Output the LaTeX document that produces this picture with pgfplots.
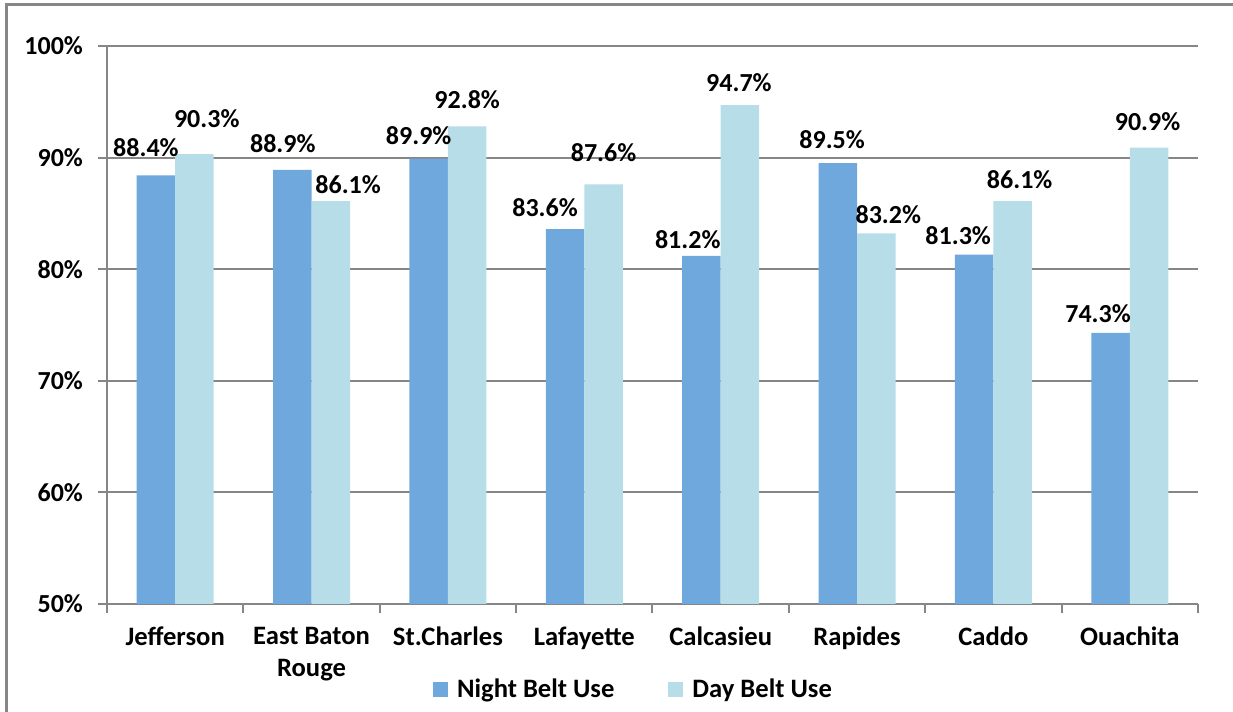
\documentclass[border=0pt]{standalone}
\usepackage{fontspec}
\setmainfont{Carlito}
\usepackage{pgfplots}
\usepackage{pgfplotstable}
\pgfplotsset{compat=1.18}
\definecolor{nightc}{RGB}{111,168,220}
\definecolor{dayc}{RGB}{183,221,232}
\definecolor{gridc}{RGB}{134,134,134}
\pgfplotstableread{
x night ndx ndy day ddx ddy
0 88.4 -5 13.85 90.3 6.15 17.65
1 88.9 -4.75 12.9 86.1 8.65 8
2 89.9 -5 11.5 92.8 0 13.25
3 83.6 -10 10.5 87.6 0 16
4 81.2 -6.85 8.25 94.7 -0.5 11.25
5 89.5 -2.85 11.65 83.2 6 9.35
6 81.3 -8 9.35 86.1 3.5 10.85
7 74.3 -6.25 9.35 90.9 -0.75 12.85
}\data
\begin{document}
\begin{tikzpicture}
\useasboundingbox (-53.5pt,-54pt) rectangle (563pt,302pt);
\begin{axis}[
  at={(0,0)}, anchor=south west,
  width=545.5pt, height=279pt, scale only axis,
  ybar=0pt, bar width=19.25pt,
  ymin=50, ymax=100, xmin=-0.5, xmax=7.5,
  ytick={50,60,...,100},
  yticklabels={50\%,60\%,70\%,80\%,90\%,100\%},
  ymajorgrids, grid style={gridc, line width=1pt},
  axis x line*=bottom, axis y line*=left,
  axis line style={gridc, line width=1pt},
  xtick={-0.5,0.5,...,7.5},
  x tick label as interval,
  xticklabels={Jefferson,East Baton\\Rouge,St.Charles,Lafayette,Calcasieu,Rapides,Caddo,Ouachita},
  tick align=outside, major tick length=4.5pt,
  tick style={gridc, line width=1pt},
  ticklabel style={font=\fontsize{13}{15.5}\selectfont\bfseries},
  yticklabel style={xshift=-4pt},
  xticklabel style={align=center, yshift=-3.5pt, font=\fontsize{13.3}{16.2}\selectfont\bfseries},
  /pgf/number format/assume math mode=true,
  nodes near coords={\pgfmathprintnumber[fixed,fixed zerofill,precision=1]{\pgfplotspointmeta}\%},
  every node near coord/.append style={font=\fontsize{13}{15.5}\selectfont\bfseries, text=black},
  legend columns=2,
  legend style={draw=none, at={(0.4835,-0.1541)}, anchor=center,
    font=\fontsize{13.3}{15.5}\selectfont\bfseries,
    /tikz/every even column/.append style={column sep=25pt}},
  legend image code/.code={\fill[#1] (0pt,-3.75pt) rectangle (7.5pt,3.75pt); \path (10pt,0pt);},
]
\addplot[fill=nightc, draw=none,
  visualization depends on={\thisrow{ndx}\as\mydx},
  visualization depends on={\thisrow{ndy}\as\mydy},
  nodes near coords style={anchor=center, xshift=\mydx pt, yshift=\mydy pt}]
  table[x=x,y=night]{\data};
\addplot[fill=dayc, draw=none,
  visualization depends on={\thisrow{ddx}\as\mydx},
  visualization depends on={\thisrow{ddy}\as\mydy},
  nodes near coords style={anchor=center, xshift=\mydx pt, yshift=\mydy pt}]
  table[x=x,y=day]{\data};
\legend{Night Belt Use,Day Belt Use}
\end{axis}
\draw[gridc, line width=1.25pt] (-50.25pt,-80pt) rectangle (590pt,299.75pt);
\end{tikzpicture}
\end{document}
